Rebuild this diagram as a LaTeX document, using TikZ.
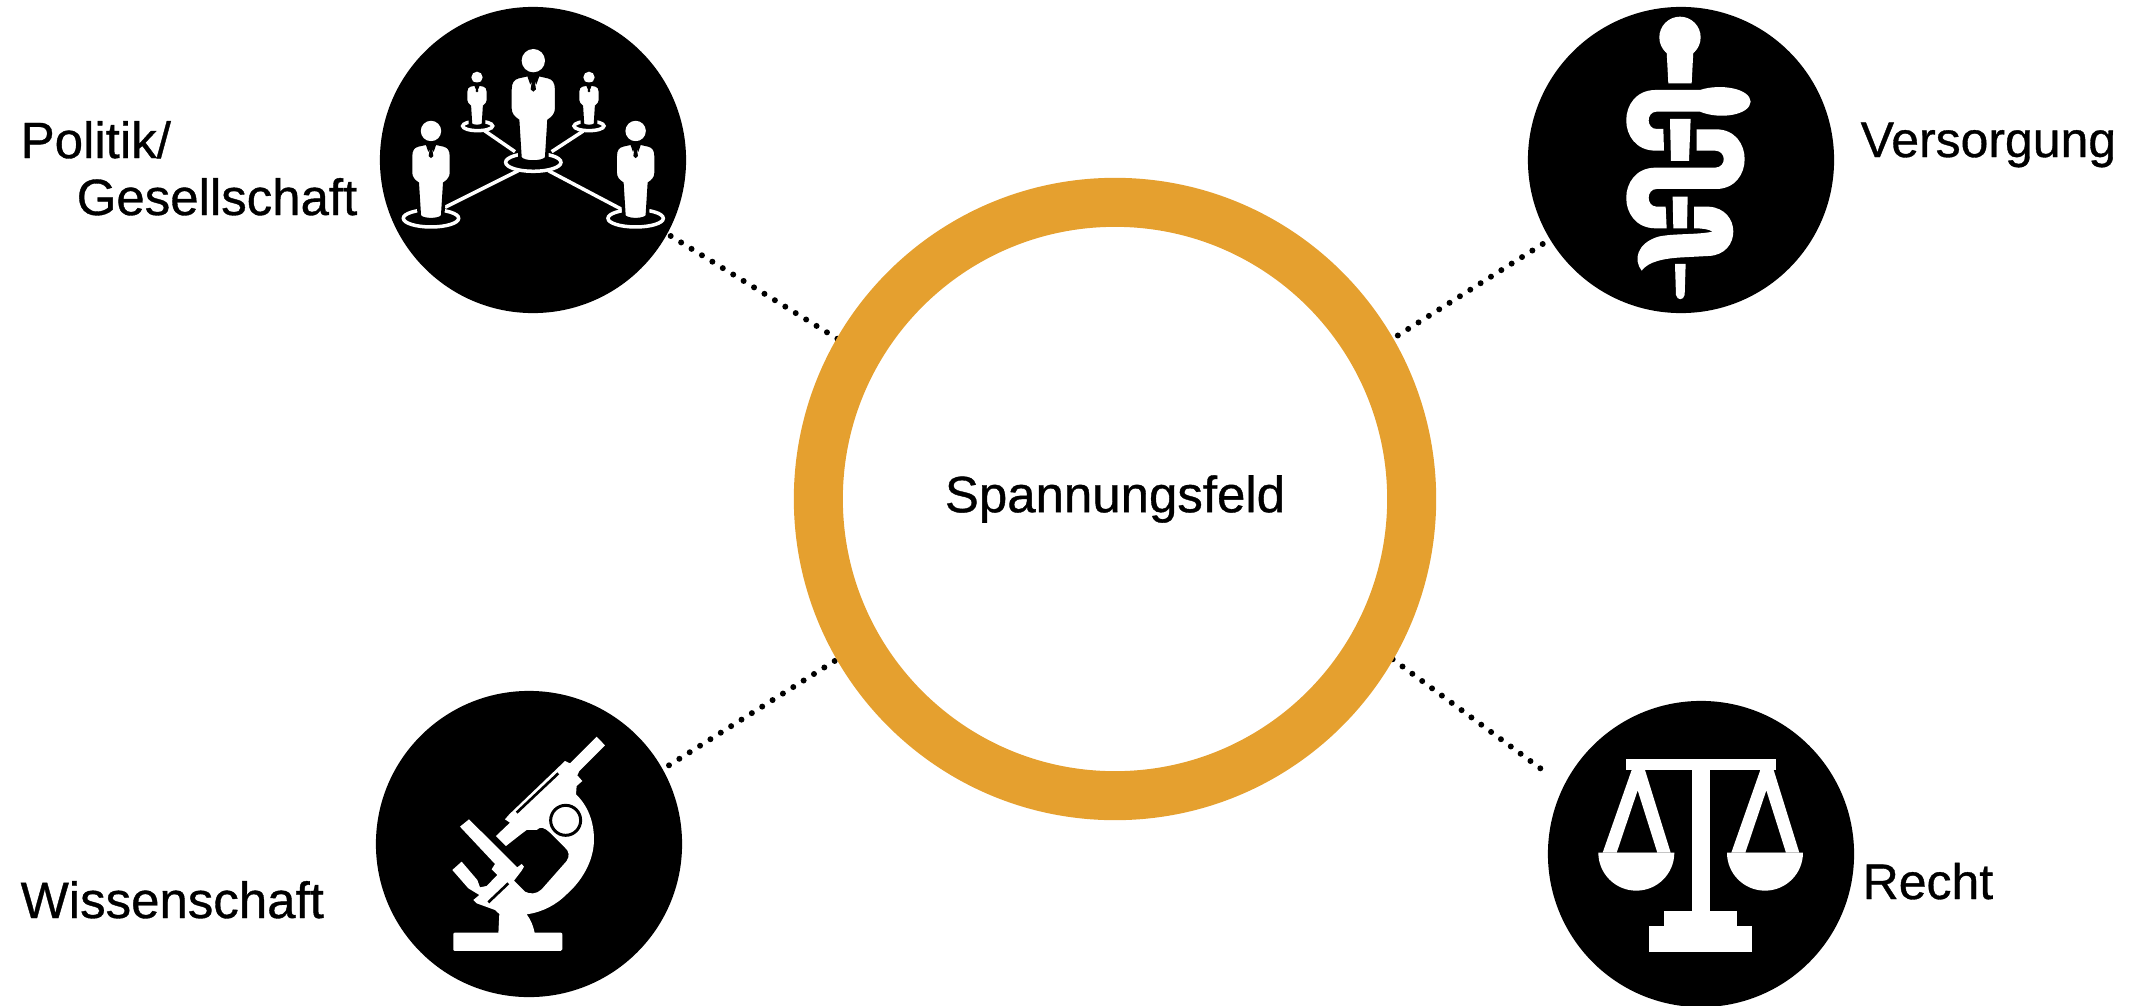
\documentclass[tikz,border=0pt]{standalone}
\usepackage{fontspec}
\setmainfont{Liberation Sans}
\newfontfamily\lblfont{Liberation Sans}[FakeBold=0.7]
\usepackage{xcolor}
\usepackage{tikz}
\usetikzlibrary{backgrounds}
\definecolor{ringorange}{HTML}{E5A02F}
\tikzstyle{hubring}=[circle, draw=ringorange, line width=13.94pt, minimum size=5.93cm, inner sep=0pt]
\tikzstyle{iconcircle}=[circle, fill=black, minimum size=3.06cm, inner sep=0pt]
\tikzstyle{dotline}=[line width=1.7pt, line cap=round, dash pattern=on 0pt off 3.48pt, shorten >=-4pt]
\tikzstyle{lbl}=[anchor=base west, inner sep=0pt, font=\lblfont\fontsize{14.5}{16.2}\selectfont]
\tikzstyle{lblsmall}=[lbl, font=\lblfont\fontsize{14.2}{16.2}\selectfont]
\tikzstyle{wline}=[white, line width=1pt]
\newcommand{\personicon}[3]{
\begin{scope}[shift={(#1,#2)},scale=#3]
\fill[white] (0,0) circle (35);
\filldraw[fill=white, draw=black, line width=1pt] (-18,42) -- (-45,48) .. controls (-62,52) and (-70,65) .. (-70,85) -- (-70,145) .. controls (-70,160) and (-60,172) .. (-47,180) -- (-40,292) .. controls (-30,308) and (30,308) .. (40,292) -- (47,180) .. controls (60,172) and (70,160) .. (70,145) -- (70,85) .. controls (70,65) and (62,52) .. (45,48) -- (18,42) -- cycle;
\fill[black] (-20,41) -- (20,41) -- (9,72) -- (4,60) -- (8,86) -- (0,93) -- (-8,86) -- (-4,60) -- (-9,72) -- cycle;
\end{scope}
}
\begin{document}
\begin{tikzpicture}[x=0.01cm,y=-0.01cm]
\useasboundingbox (0,0) rectangle (2139,1006);
\node[hubring] (hub) at (1115,499) {\lblfont\fontsize{14.5}{16.2}\selectfont Spannungsfeld};
\node[iconcircle] (politik) at (533,160) {};
\node[iconcircle] (versorgung) at (1681,160) {};
\node[iconcircle] (wissenschaft) at (529,844) {};
\node[iconcircle] (recht) at (1701,854) {};
\coordinate (politikend) at (670.7,236);
\coordinate (versorgungend) at (1542.7,244);
\coordinate (wissenschaftend) at (669,765.3);
\coordinate (rechtend) at (1540.3,768.3);
\begin{scope}[on background layer]
\draw[dotline] (politikend) -- (hub.150);
\draw[dotline] (versorgungend) -- (hub.30);
\draw[dotline] (wissenschaftend) -- (hub.210.5);
\draw[dotline] (rechtend) -- (hub.-30.5);
\end{scope}
\node[lbl, align=left] (politiklabel) at (20,215) {Politik/\\\hspace*{0.56cm}Gesellschaft};
\node[lblsmall] (versorgunglabel) at (1860,157) {Versorgung};
\node[lbl] (wissenschaftlabel) at (20,918) {Wissenschaft};
\node[lblsmall] (rechtlabel) at (1862,899) {Recht};
% people
\begin{scope}[shift={(370,0)},scale=0.3333]
\draw[wline] (445,512) -- (225,622);
\draw[wline] (535,512) -- (755,628);
\draw[wline] (345,393) -- (435,455);
\draw[wline] (640,393) -- (545,455);
\draw[wline] (490,487) ellipse (83 and 27);
\draw[wline] (183,655) ellipse (83 and 26);
\draw[wline] (797,655) ellipse (83 and 26);
\draw[wline] (323,378) ellipse (45 and 14);
\draw[wline] (657,378) ellipse (45 and 14);
\personicon{490}{182}{1}
\personicon{183}{393}{0.875}
\personicon{797}{393}{0.875}
\personicon{321}{232}{0.485}
\personicon{657}{232}{0.485}
\end{scope}
% staff and snake
\begin{scope}[shift={(1520,0)},scale=0.3333]
\fill[white] (480,112) circle (62);
\fill[white] (440,155) -- (520,155) -- (515,250) -- (445,250) -- cycle;
\fill[white] (450,357) -- (512,357) -- (507,483) -- (453,483) -- cycle;
\fill[white] (458,590) -- (503,590) -- (501,685) -- (460,685) -- cycle;
\fill[white] (465,792) -- (497,792) -- (494,885) .. controls (490,902) and (472,902) .. (468,885) -- cycle;
\fill[white] (540,270) .. controls (600,250) and (690,265) .. (692,305) .. controls (690,345) and (600,360) .. (540,335) -- (410,335) .. controls (378,335) and (378,387) .. (410,387) -- (430,387) -- (432,452) -- (405,452) .. controls (290,450) and (290,272) .. (405,270) -- cycle;
\fill[white] (530,388) -- (590,388) .. controls (702,390) and (702,565) .. (590,567) -- (410,567) .. controls (378,567) and (378,620) .. (410,620) -- (437,620) -- (440,685) -- (405,685) .. controls (290,683) and (290,505) .. (405,503) -- (585,503) .. controls (620,503) and (620,452) .. (585,452) -- (530,452) -- cycle;
\fill[white] (522,620) -- (565,620) .. controls (665,625) and (665,765) .. (565,768) -- (490,772) .. controls (430,775) and (385,785) .. (365,812) .. controls (340,780) and (350,730) .. (415,710) .. controls (460,700) and (530,705) .. (578,695) .. controls (565,687) and (545,685) .. (522,685) -- cycle;
\end{scope}
% microscope
\begin{scope}[shift={(370,686)},scale=0.3333]
\fill[white] (250,745) .. controls (250,740) and (252,740) .. (256,740) -- (572,740) .. controls (576,740) and (577,742) .. (577,746) -- (577,790) .. controls (577,794) and (576,795) .. (572,795) -- (256,795) .. controls (252,795) and (250,794) .. (250,790) -- cycle;
\fill[white] (680,152) -- (705,178) -- (628,255) -- (622,268) -- (637,285) -- (620,300) -- (618,325) .. controls (655,360) and (672,410) .. (672,460) .. controls (672,530) and (630,590) .. (590,625) .. controls (560,655) and (520,678) .. (470,685) .. controls (482,700) and (490,720) .. (495,745) -- (385,745) -- (388,684) -- (375,672) -- (320,652) -- (310,642) -- (328,627) -- (295,607) -- (247,552) -- (275,527) -- (322,582) -- (330,604) -- (350,600) -- (382,567) -- (365,550) -- (375,534) -- (270,422) -- (297,400) -- (442,544) -- (455,534) -- (462,542) -- (455,554) -- (432,584) -- (465,617) .. controls (480,625) and (500,625) .. (515,610) -- (590,525) .. controls (600,510) and (597,495) .. (585,485) -- (540,440) .. controls (525,425) and (510,420) .. (500,432) -- (470,432) -- (450,447) -- (408,480) -- (378,450) -- (420,410) -- (405,400) -- (418,385) -- (585,225) -- (600,232) -- cycle;
\draw[black, line width=0.75pt] (440,380) -- (565,262);
\draw[black, line width=0.75pt] (355,649) -- (415,592);
\draw[black, line width=0.85pt] (587,403) circle (45);
\end{scope}
% scales
\begin{scope}[shift={(1540,696)},scale=0.3333]
\fill[white] (258,190) rectangle (707,222);
\fill[white] (455,222) rectangle (510,645);
\fill[white] (373,645) rectangle (592,690);
\fill[white] (328,690) rectangle (637,768);
\foreach \dx in {0,386} {
\begin{scope}[xshift=\dx*0.01cm]
\fill[white, even odd rule] (275,222) -- (188,470) -- (392,470) -- (315,222) -- cycle (293,283) -- (230,470) -- (352,470) -- cycle;
\fill[white] (175,470) arc[start angle=180, end angle=0, radius=114] -- cycle;
\end{scope}
}
\end{scope}
\end{tikzpicture}
\end{document}
